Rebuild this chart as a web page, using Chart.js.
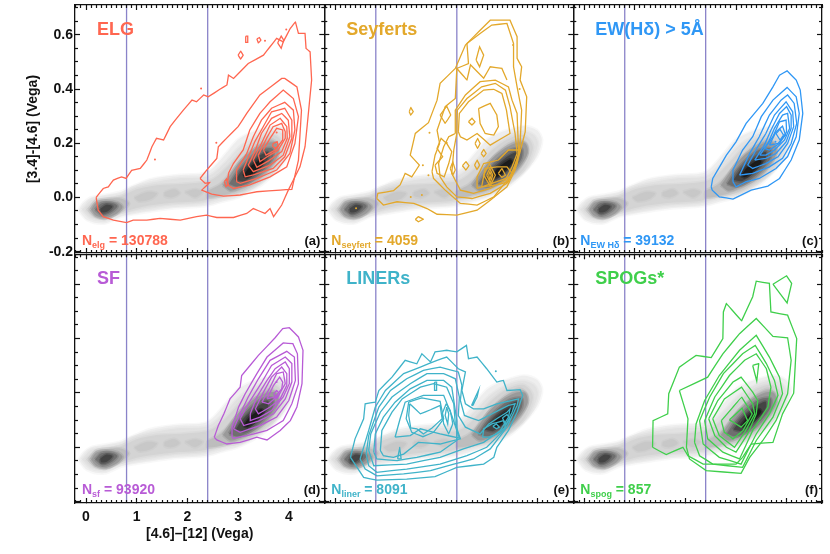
<!DOCTYPE html>
<html>
<head>
<meta charset="utf-8">
<script src="https://cdn.jsdelivr.net/npm/chart.js@4"></script>
<style>
  html, body { margin: 0; padding: 0; background: #fff; }
  body { width: 830px; height: 554px; overflow: hidden; position: relative; }
  canvas { position: absolute; left: 0; top: 0; }
</style>
</head>
<body>
<canvas id="panelA" width="830" height="554"></canvas>
<canvas id="panelB" width="830" height="554"></canvas>
<canvas id="panelC" width="830" height="554"></canvas>
<canvas id="panelD" width="830" height="554"></canvas>
<canvas id="panelE" width="830" height="554"></canvas>
<canvas id="panelF" width="830" height="554"></canvas>
<script>
// axis values
const xRange = [-0.217, 4.70];
const yRange = [-0.205, 0.71];
const xMajor = [0, 1, 2, 3, 4];
const yMajor = [-0.2, 0, 0.2, 0.4, 0.6];
const xMinor = [-0.2, -0.1, 0.1, 0.2, 0.3, 0.4, 0.5, 0.6, 0.7, 0.8, 0.9, 1.1, 1.2, 1.3, 1.4, 1.5, 1.6, 1.7, 1.8, 1.9, 2.1, 2.2, 2.3, 2.4, 2.5, 2.6, 2.7, 2.8, 2.9, 3.1, 3.2, 3.3, 3.4, 3.5, 3.6, 3.7, 3.8, 3.9, 4.1, 4.2, 4.3, 4.4, 4.5, 4.6, 4.7];
const yMinor = [-0.15, -0.1, -0.05, 0.05, 0.1, 0.15, 0.25, 0.3, 0.35, 0.45, 0.5, 0.55, 0.65, 0.7];
const vLines = [0.8, 2.4];

// grey background density, lightest level first: [colour, outline, outline...]
const greyLevels = [
  ['#eeeeee', [-0.15,-0.047, -0.05,-0.02, 0.1,0.0, 0.36,0.009, 0.69,0.021, 0.82,0.033, 1.22,0.064, 1.5,0.075, 1.81,0.082, 2.34,0.089, 2.53,0.113, 2.75,0.16, 2.99,0.212, 3.2,0.235, 3.39,0.248, 3.72,0.263, 3.98,0.248, 4.08,0.212, 3.98,0.15, 3.72,0.09, 3.46,0.046, 3.02,0.002, 2.67,-0.016, 2.34,-0.032, 1.68,-0.041, 1.02,-0.059, 0.69,-0.071, 0.36,-0.096, 0.03,-0.084]],
  ['#e2e2e2', [-0.08,-0.045, 0.1,-0.01, 0.36,0.0, 0.7,0.012, 0.9,0.035, 1.3,0.055, 1.8,0.07, 2.35,0.075, 2.55,0.095, 2.8,0.14, 3.05,0.19, 3.4,0.23, 3.7,0.245, 3.92,0.23, 4.0,0.2, 3.9,0.14, 3.7,0.09, 3.4,0.05, 3.0,0.01, 2.65,-0.005, 2.3,-0.022, 1.7,-0.03, 1.0,-0.05, 0.7,-0.062, 0.36,-0.085, 0.08,-0.075]],
  ['#d4d4d4', [0.0,-0.045, 0.15,-0.02, 0.38,-0.008, 0.7,0.005, 1.0,0.03, 1.4,0.045, 1.9,0.05, 2.4,0.06, 2.6,0.08, 2.85,0.125, 3.1,0.175, 3.4,0.215, 3.7,0.23, 3.85,0.21, 3.9,0.18, 3.75,0.11, 3.5,0.065, 3.1,0.02, 2.65,0.005, 2.3,-0.012, 1.7,-0.02, 1.1,-0.035, 0.7,-0.055, 0.4,-0.075, 0.15,-0.07]],
  ['#c8c8c8', [0.95,0.0, 1.2,0.02, 1.4,0.015, 1.3,-0.005, 1.05,-0.015], [1.55,0.02, 1.75,0.03, 1.85,0.015, 1.7,0.0, 1.55,0.005], [1.95,0.02, 2.15,0.03, 2.3,0.02, 2.15,0.0]],
  ['#bdbdbd', [0.05,-0.045, 0.2,-0.012, 0.45,-0.005, 0.7,-0.005, 0.85,-0.022, 0.7,-0.05, 0.4,-0.078, 0.18,-0.07], [2.4,0.025, 2.65,0.05, 2.9,0.1, 3.15,0.155, 3.4,0.195, 3.65,0.215, 3.8,0.19, 3.75,0.14, 3.5,0.08, 3.15,0.035, 2.8,0.012, 2.4,0.0]],
  ['#9a9a9a', [0.1,-0.045, 0.2,-0.02, 0.4,-0.012, 0.62,-0.018, 0.72,-0.035, 0.6,-0.06, 0.4,-0.075, 0.2,-0.068], [2.7,0.045, 2.85,0.085, 3.05,0.135, 3.3,0.175, 3.55,0.2, 3.75,0.2, 3.8,0.165, 3.65,0.115, 3.4,0.07, 3.1,0.04, 2.85,0.025]],
  ['#6f6f6f', [0.18,-0.045, 0.3,-0.022, 0.5,-0.02, 0.62,-0.032, 0.5,-0.055, 0.33,-0.066], [2.82,0.05, 2.98,0.095, 3.2,0.14, 3.45,0.175, 3.68,0.18, 3.68,0.145, 3.5,0.1, 3.25,0.06, 3.0,0.04]],
  ['#444444', [0.28,-0.042, 0.4,-0.027, 0.52,-0.033, 0.42,-0.052, 0.3,-0.055], [2.95,0.065, 3.1,0.105, 3.35,0.145, 3.58,0.168, 3.58,0.14, 3.35,0.09, 3.12,0.06]],
  ['#1c1c1c', [3.1,0.08, 3.22,0.11, 3.45,0.14, 3.5,0.13, 3.3,0.09, 3.18,0.075]]
];

// contours of each class, as flat x,y lists
const elgContours = [
  [0.20,0, 0.34,0.033, 0.44,0.039, 0.54,0.064, 0.70,0.076, 0.79,0.07, 0.90,0.10, 1.07,0.107, 1.20,0.138, 1.30,0.187, 1.39,0.218, 1.53,0.212, 1.66,0.261, 1.76,0.285, 1.92,0.322, 2.09,0.359, 2.18,0.353, 2.32,0.378, 2.41,0.371, 2.64,0.399, 2.78,0.415, 2.81,0.451, 2.91,0.439, 3.20,0.494, 3.50,0.525, 3.63,0.556, 3.76,0.587, 3.89,0.574, 4.03,0.624, 4.13,0.648, 4.19,0.605, 4.32,0.605, 4.34,0.55, 4.42,0.537, 4.45,0.433, 4.36,0.261, 4.32,0.187, 4.22,0.113, 3.99,0.027, 3.86,-0.028, 3.70,-0.071, 3.63,-0.041, 3.53,-0.059, 3.30,-0.041, 3.17,-0.059, 2.91,-0.074, 2.58,-0.074, 2.38,-0.065, 2.18,-0.071, 1.86,-0.084, 1.46,-0.077, 1.20,-0.084, 0.93,-0.084, 0.80,-0.093, 0.54,-0.084, 0.34,-0.071, 0.24,-0.047],
  [2.25,0.07, 2.35,0.052, 2.44,0.055, 2.28,0.027, 2.48,0.012, 2.71,0.005, 3.04,0.009, 3.37,0.021, 3.83,0.027, 4.06,0.03, 4.19,0.138, 4.25,0.322, 4.16,0.408, 3.92,0.439, 3.86,0.439, 3.43,0.378, 3.17,0.31, 3.00,0.261, 2.77,0.218, 2.61,0.187, 2.58,0.144, 2.38,0.101],
  [2.81,0.089, 2.91,0.126, 3.10,0.175, 3.23,0.249, 3.43,0.31, 3.63,0.353, 3.89,0.396, 4.09,0.365, 4.19,0.298, 4.12,0.199, 3.96,0.113, 3.63,0.076, 3.23,0.046, 2.91,0.033, 2.79,0.046],
  [2.97,0.058, 2.97,0.101, 3.17,0.162, 3.30,0.224, 3.46,0.285, 3.66,0.329, 3.92,0.351, 4.09,0.322, 4.12,0.249, 4.02,0.162, 3.76,0.101, 3.37,0.07, 3.04,0.052],
  [3.10,0.101, 3.33,0.206, 3.66,0.316, 3.92,0.329, 4.06,0.285, 4.06,0.218, 3.92,0.15, 3.69,0.107, 3.30,0.083, 3.14,0.076],
  [3.20,0.119, 3.33,0.169, 3.46,0.236, 3.66,0.292, 3.86,0.31, 3.99,0.285, 4.02,0.224, 3.89,0.156, 3.63,0.119, 3.30,0.095],
  [3.30,0.138, 3.46,0.199, 3.63,0.267, 3.83,0.292, 3.96,0.261, 3.97,0.218, 3.86,0.169, 3.60,0.135, 3.37,0.111],
  [3.40,0.156, 3.56,0.218, 3.69,0.261, 3.86,0.273, 3.93,0.242, 3.93,0.218, 3.79,0.175, 3.56,0.148, 3.43,0.132],
  [3.50,0.175, 3.63,0.218, 3.76,0.255, 3.88,0.249, 3.88,0.212, 3.73,0.175, 3.55,0.156],
  [3.69,0.199, 3.77,0.206, 3.79,0.19, 3.73,0.181, 3.68,0.19],
  [2.73,0.058, 2.77,0.068, 2.81,0.046, 2.76,0.04],
  [3.15,0.595, 3.19,0.595, 3.19,0.572, 3.15,0.572],
  [3.00,0.525, 3.05,0.54, 3.1,0.525, 3.05,0.51],
  [3.37,0.585, 3.42,0.59, 3.45,0.58, 3.4,0.57],
  [3.78,0.57, 3.85,0.595, 3.9,0.58, 3.85,0.55]
];
const elgDots = [3.76,0.24, 3.95,0.62, 2.27,0.402, 2.57,0.202, 3.53,0.578, 1.36,0.14];

const seyfertContours = [
  [0.82,-0.004, 0.84,0.015, 1.15,0.025, 1.28,0.046, 1.38,0.089, 1.51,0.076, 1.66,0.119, 1.48,0.156, 1.58,0.236, 1.84,0.276, 2.01,0.359, 2.07,0.421, 2.37,0.476, 2.57,0.562, 2.86,0.617, 3.06,0.654, 3.45,0.654, 3.59,0.593, 3.59,0.513, 3.68,0.482, 3.65,0.433, 3.78,0.371, 3.75,0.242, 3.65,0.169, 3.55,0.101, 3.39,0.039, 3.06,-0.01, 2.8,-0.047, 2.4,-0.065, 2.01,-0.062, 1.81,-0.041, 1.55,-0.022, 1.22,-0.016, 0.95,-0.028],
  [1.91,0.095, 1.97,0.156, 2.06,0.199, 2.01,0.248, 2.17,0.335, 2.37,0.365, 2.4,0.476, 2.63,0.494, 2.6,0.568, 2.86,0.605, 3.09,0.636, 3.39,0.642, 3.52,0.568, 3.52,0.482, 3.59,0.408, 3.68,0.322, 3.65,0.199, 3.59,0.125, 3.45,0.076, 3.13,0.002, 2.8,-0.028, 2.47,-0.022, 2.17,0.027, 1.94,0.07],
  [2.37,0.236, 2.37,0.322, 2.57,0.378, 2.86,0.427, 3.16,0.433, 3.42,0.408, 3.49,0.359, 3.59,0.31, 3.62,0.162, 3.52,0.101, 3.39,0.052, 3.06,0.015, 2.7,-0.004, 2.4,0.002, 2.2,0.039, 2.07,0.076, 2.04,0.125, 2.14,0.187, 2.24,0.224],
  [2.4,0.236, 2.41,0.322, 2.6,0.365, 2.89,0.408, 3.16,0.421, 3.36,0.396, 3.45,0.335, 3.55,0.236, 3.59,0.162, 3.49,0.113, 3.36,0.064, 3.06,0.033, 2.73,0.015, 2.47,0.027, 2.3,0.089, 2.34,0.175],
  [2.43,0.242, 2.45,0.31, 2.63,0.353, 2.93,0.396, 3.13,0.399, 3.29,0.384, 3.38,0.322, 3.45,0.236, 3.06,0.193, 2.8,0.236, 2.6,0.212, 2.47,0.224],
  [2.83,0.328, 3.06,0.347, 3.19,0.304, 3.22,0.261, 3.13,0.23, 2.96,0.236, 2.86,0.273],
  [2.93,0.082, 3.04,0.125, 3.16,0.082, 3.06,0.042],
  [2.99,0.082, 3.05,0.107, 3.11,0.082, 3.06,0.054],
  [3.03,0.082, 3.05,0.095, 3.08,0.082, 3.05,0.064],
  [2.8,0.033, 3.19,0.058, 3.45,0.076, 3.59,0.138, 3.65,0.175, 3.42,0.175, 3.22,0.138, 2.93,0.125, 2.8,0.076],
  [2.89,0.039, 3.19,0.046, 3.42,0.058, 3.49,0.089, 3.39,0.113, 3.19,0.113, 2.96,0.107],
  [3.22,0.089, 3.29,0.107, 3.36,0.082, 3.29,0.074],
  [2.63,0.279, 2.70,0.292, 2.76,0.279, 2.70,0.267],
  [2.76,0.199, 2.81,0.218, 2.86,0.199, 2.81,0.181],
  [2.88,0.162, 2.93,0.177, 2.98,0.162, 2.93,0.15],
  [2.51,0.117, 2.58,0.132, 2.64,0.117, 2.58,0.101],
  [2.75,0.119, 2.8,0.138, 2.85,0.119, 2.8,0.103],
  [2.27,0.107, 2.32,0.132, 2.37,0.101, 2.32,0.082],
  [1.46,0.316, 1.49,0.332, 1.54,0.316, 1.49,0.304],
  [1.58,-0.081, 1.64,-0.071, 1.74,-0.08, 1.64,-0.09],
  [2.78,0.507, 2.85,0.556, 2.93,0.525, 2.85,0.482],
  [2.07,0.304, 2.2,0.337, 2.28,0.304, 2.17,0.273],
  [1.97,0.119, 2.12,0.15, 2.01,0.181, 2.09,0.218, 2.2,0.199, 2.3,0.169, 2.24,0.125, 2.15,0.076, 2.01,0.089]
];
const seyfertOpen = [
  [2.4,0.476, 2.6,0.433, 2.67,0.489, 2.93,0.44, 3.06,0.482, 3.29,0.476, 3.39,0.433]
];
const seyfertDots = [3.51,0.562, 3.64,0.4, 0.41,-0.04, 1.86,0.239, 1.73,0.119, 1.84,0.082, 2.2,0.202, 1.49,0.002, 1.71,0.009];

const ewContours = [
  [2.51,0.039, 2.54,0.07, 2.81,0.156, 3.0,0.205, 3.2,0.273, 3.53,0.347, 3.73,0.408, 3.86,0.451, 4.01,0.467, 4.19,0.433, 4.27,0.396, 4.32,0.31, 4.25,0.212, 4.09,0.138, 3.86,0.07, 3.63,0.042, 3.3,0.027, 2.94,-0.006, 2.67,0.002, 2.53,0.027],
  [2.94,0.058, 2.94,0.101, 3.13,0.175, 3.33,0.224, 3.5,0.298, 3.73,0.359, 4.01,0.406, 4.19,0.371, 4.25,0.31, 4.19,0.224, 4.02,0.151, 3.79,0.107, 3.46,0.07, 3.2,0.058, 3.0,0.039],
  [3.07,0.082, 3.27,0.162, 3.46,0.224, 3.66,0.304, 3.89,0.359, 4.02,0.378, 4.15,0.347, 4.2,0.273, 4.09,0.199, 3.92,0.144, 3.66,0.113, 3.33,0.089],
  [3.23,0.119, 3.43,0.187, 3.59,0.236, 3.76,0.304, 3.99,0.353, 4.12,0.316, 4.14,0.261, 4.02,0.199, 3.83,0.15, 3.59,0.125, 3.33,0.107],
  [3.37,0.138, 3.56,0.193, 3.69,0.248, 3.86,0.31, 4.0,0.335, 4.09,0.304, 4.09,0.255, 3.99,0.205, 3.79,0.162, 3.59,0.144],
  [3.47,0.156, 3.63,0.199, 3.76,0.255, 3.92,0.304, 4.02,0.31, 4.06,0.255, 3.96,0.212, 3.76,0.175, 3.59,0.156],
  [3.56,0.181, 3.73,0.224, 3.86,0.279, 3.99,0.285, 4.0,0.242, 3.86,0.199, 3.66,0.175],
  [3.66,0.193, 3.79,0.242, 3.92,0.263, 3.98,0.23, 3.83,0.199],
  [3.79,0.236, 3.87,0.251, 3.94,0.23, 3.87,0.212]
];
const ewDots = [3.78,0.205];

const sfContours = [
  [2.53,0.037, 2.61,0.08, 2.72,0.123, 2.84,0.178, 3.04,0.221, 3.07,0.264, 3.40,0.338, 3.73,0.403, 3.88,0.437, 4.01,0.44, 4.19,0.406, 4.28,0.357, 4.26,0.234, 4.16,0.148, 4.03,0.098, 3.83,0.062, 3.57,0.027, 3.37,0.037, 3.04,0.018, 2.78,0.012, 2.58,0.027],
  [2.88,0.037, 2.88,0.074, 3.01,0.148, 3.14,0.197, 3.37,0.271, 3.57,0.332, 3.89,0.384, 4.08,0.381, 4.17,0.344, 4.19,0.234, 4.06,0.16, 3.89,0.098, 3.57,0.062, 3.17,0.043, 2.91,0.033],
  [2.91,0.068, 3.07,0.135, 3.20,0.185, 3.40,0.252, 3.63,0.32, 3.96,0.353, 4.11,0.332, 4.13,0.246, 4.0,0.172, 3.76,0.111, 3.43,0.08, 3.04,0.055],
  [3.04,0.105, 3.24,0.172, 3.47,0.24, 3.66,0.301, 3.93,0.332, 4.06,0.308, 4.06,0.24, 3.93,0.178, 3.70,0.123, 3.40,0.096, 3.11,0.08],
  [3.24,0.123, 3.37,0.185, 3.57,0.246, 3.73,0.289, 3.93,0.314, 4.01,0.289, 4.01,0.234, 3.89,0.185, 3.66,0.135, 3.43,0.111, 3.24,0.098],
  [3.34,0.141, 3.50,0.203, 3.66,0.258, 3.86,0.295, 3.96,0.271, 3.96,0.228, 3.83,0.178, 3.63,0.148, 3.40,0.123],
  [3.47,0.166, 3.63,0.221, 3.76,0.271, 3.89,0.277, 3.93,0.234, 3.80,0.191, 3.60,0.16],
  [3.57,0.178, 3.70,0.228, 3.82,0.258, 3.88,0.24, 3.86,0.215, 3.73,0.185],
  [3.70,0.197, 3.76,0.209, 3.82,0.197, 3.76,0.178]
];
const sfDots = [3.76,0.24, 3.05,0.12];

const linerContours = [
  [0.30,-0.037, 0.39,0.031, 0.56,0.105, 0.59,0.16, 0.79,0.166, 0.86,0.209, 1.12,0.258, 1.38,0.32, 1.61,0.307, 1.71,0.344, 1.88,0.314, 1.97,0.351, 2.2,0.357, 2.4,0.351, 2.59,0.375, 2.63,0.326, 2.8,0.332, 2.99,0.289, 3.19,0.24, 3.32,0.246, 3.39,0.209, 3.65,0.212, 3.7,0.191, 3.59,0.129, 3.42,0.062, 3.19,0, 3.13,-0.037, 2.93,-0.062, 2.4,-0.074, 1.97,-0.108, 1.41,-0.117, 0.82,-0.121, 0.56,-0.111],
  [0.49,-0.043, 0.66,0.062, 0.79,0.148, 0.99,0.209, 1.35,0.271, 1.68,0.295, 2.01,0.32, 2.2,0.332, 2.43,0.289, 2.57,0.277, 2.5,0.209, 2.57,0.16, 2.73,0.141, 2.93,0.141, 3.19,0.16, 3.62,0.178, 3.59,0.154, 3.39,0.074, 3.06,-0.006, 2.73,-0.043, 2.34,-0.062, 1.88,-0.086, 1.35,-0.098, 0.82,-0.105, 0.59,-0.08],
  [0.61,-0.025, 0.66,0.043, 0.86,0.148, 1.09,0.209, 1.41,0.252, 1.74,0.283, 2.07,0.295, 2.43,0.277, 2.5,0.228, 2.47,0.172, 2.55,0.117, 2.83,0.098, 3.03,0.117, 3.42,0.154, 3.55,0.16, 3.49,0.129, 3.32,0.062, 2.99,0, 2.6,-0.031, 2.07,-0.062, 1.41,-0.08, 0.82,-0.092, 0.66,-0.068],
  [0.66,-0.012, 0.70,0.049, 0.89,0.129, 1.12,0.185, 1.48,0.234, 1.81,0.271, 2.14,0.271, 2.37,0.252, 2.45,0.185, 2.43,0.117, 2.57,0.074, 2.86,0.049, 3.03,0.086, 3.39,0.129, 3.45,0.141, 3.42,0.111, 3.26,0.062, 2.93,0.018, 2.53,-0.006, 2.07,-0.037, 1.41,-0.062, 0.76,-0.068],
  [0.76,-0.018, 0.79,0.049, 0.95,0.111, 1.18,0.166, 1.48,0.215, 1.81,0.246, 2.14,0.246, 2.3,0.221, 2.4,0.098, 2.4,0.025, 2.07,-0.018, 1.61,-0.037, 1.22,-0.049, 0.82,-0.043],
  [0.89,-0.012, 0.92,0.062, 1.12,0.129, 1.32,0.178, 1.68,0.221, 1.94,0.234, 2.2,0.221, 2.34,0.16, 2.37,0.086, 2.47,0.031, 2.07,0.012, 1.64,0.018, 1.35,-0.025, 1.15,-0.037, 0.95,-0.031],
  [1.18,0.037, 1.28,0.105, 1.38,0.166, 1.74,0.191, 2.14,0.191, 2.3,0.117, 2.45,0.034, 2.07,0.049, 1.68,0.068, 1.48,0.043],
  [1.45,0.166, 1.71,0.182, 2.07,0.169, 2.14,0.105, 1.94,0.055, 1.73,0.039, 1.51,0.055, 1.4,0.105],
  [1.47,0.16, 1.68,0.123, 1.88,0.138, 2.07,0.154, 2.11,0.105, 1.91,0.071, 1.74,0.049, 1.61,0.068, 1.49,0.071, 1.45,0.117],
  [2.19,0.16, 2.27,0.135, 2.32,0.086, 2.24,0.049, 2.14,0.086, 2.11,0.123],
  [2.2,0.148, 2.24,0.123, 2.22,0.086, 2.17,0.117],
  [1.96,0.24, 2.0,0.24, 2.0,0.209, 1.96,0.209],
  [2.91,0.037, 2.93,0.068, 3.09,0.086, 3.32,0.098, 3.36,0.074, 3.19,0.049, 3.03,0.037],
  [3.11,0.077, 3.18,0.086, 3.24,0.074, 3.18,0.068],
  [3.3,0.108, 3.39,0.121, 3.45,0.105, 3.37,0.084],
  [1.23,-0.043, 1.27,0, 1.3,-0.043],
  [2.69,0.154, 2.83,0.21, 2.8,0.185, 2.72,0.155]
];
const linerDots = [3.17,0.28];

const spogContours = [
  [1.35,0, 1.36,0.098, 1.65,0.123, 1.67,0.197, 1.88,0.295, 2.21,0.338, 2.51,0.33, 2.74,0.4, 2.75,0.498, 2.81,0.529, 3.11,0.465, 3.33,0.554, 3.40,0.611, 3.66,0.603, 3.69,0.498, 4.02,0.486, 4.2,0.4, 4.14,0.199, 3.92,0.123, 3.73,0.018, 3.30,0.012, 3.13,-0.037, 3.0,-0.062, 2.35,-0.062, 2.05,-0.031, 1.95,0, 1.62,-0.027],
  [3.73,0.6, 4.0,0.631, 4.1,0.603, 4.01,0.531],
  [1.88,0.209, 2.44,0.258, 2.74,0.344, 3.07,0.418, 3.40,0.474, 3.73,0.408, 4.02,0.403, 4.09,0.32, 4.02,0.197, 3.79,0.098, 3.53,0.025, 3.27,-0.037, 3.10,-0.096, 2.41,-0.086, 2.08,-0.043, 2.02,0, 2.05,0.105],
  [2.18,0.018, 2.21,0.086, 2.38,0.172, 2.67,0.264, 3.07,0.357, 3.40,0.412, 3.66,0.332, 3.86,0.258, 3.92,0.197, 3.73,0.111, 3.40,0.025, 3.13,-0.074, 2.54,-0.062, 2.28,-0.031],
  [2.28,0.098, 2.48,0.185, 2.75,0.271, 3.13,0.344, 3.38,0.375, 3.6,0.308, 3.76,0.246, 3.83,0.191, 3.66,0.123, 3.40,0.049, 3.1,-0.062, 2.67,-0.037, 2.35,0.012],
  [2.38,0.098, 2.58,0.185, 2.87,0.264, 3.17,0.32, 3.40,0.344, 3.6,0.289, 3.69,0.221, 3.63,0.148, 3.33,0.062, 3.07,-0.043, 2.74,-0.018, 2.44,0.031],
  [2.46,0.105, 2.64,0.172, 2.94,0.24, 3.10,0.258, 3.33,0.203, 3.43,0.172, 3.40,0.123, 3.23,0.049, 3.0,-0.018, 2.81,0, 2.58,0.043],
  [2.54,0.105, 2.77,0.178, 3.11,0.221, 3.33,0.16, 3.37,0.123, 3.17,0.055, 2.97,0, 2.67,0.043],
  [2.71,0.098, 2.94,0.148, 3.11,0.185, 3.32,0.123, 3.14,0.062, 2.94,0.031, 2.77,0.055],
  [2.87,0.101, 3.12,0.144, 3.23,0.098, 3.10,0.074],
  [3.33,0.301, 3.45,0.308, 3.41,0.244]
];

// panel boxes on the page: left, right, top, bottom
const columnEdges = [[75, 324.3], [324.3, 573.3], [573.3, 822]];
const rowEdges = [[5, 253], [254.3, 503]];

function toPoints(flat, close) {
  const pts = [];
  for (let i = 0; i < flat.length; i += 2) pts.push({ x: flat[i], y: flat[i + 1] });
  if (close) pts.push({ x: flat[0], y: flat[1] });
  return pts;
}

function greyDatasets() {
  const sets = [];
  // reversed: first dataset is painted last, so the darkest goes first
  greyLevels.slice().reverse().forEach(level => {
    level.slice(1).forEach(shape => {
      sets.push({
        data: toPoints(shape, true), showLine: true, fill: 'shape', tension: 0.3,
        backgroundColor: level[0], borderColor: level[0] + '70', borderWidth: 3, pointRadius: 0
      });
    });
  });
  return sets;
}

function makeAxis(position, ticks, tickLen, primary, labels, title) {
  const horizontal = position === 'bottom' || position === 'top';
  const range = horizontal ? xRange : yRange;
  const size = title ? (horizontal ? 40 : 50) : 0;
  return {
    type: 'linear', position: position, min: range[0], max: range[1],
    weight: title ? 1 : 0,
    afterBuildTicks: axis => { axis.ticks = ticks.map(v => ({ value: v })); },
    afterFit: axis => {
      if (horizontal) axis.height = size; else axis.width = size;
      axis.paddingLeft = axis.paddingRight = axis.paddingTop = axis.paddingBottom = 0;
    },
    // ticks point inwards, so both layers go above the datasets
    border: { z: 1, display: primary, color: '#111', width: 1.3 },
    grid: { z: 1, drawOnChartArea: false, drawTicks: true, tickLength: -tickLen, tickColor: '#111', tickWidth: 1.2 },
    ticks: {
      display: labels, autoSkip: false, maxRotation: 0, color: '#111',
      padding: horizontal ? tickLen + 6 : tickLen + 2,
      font: { family: 'Liberation Sans', weight: 'bold', size: 14 },
      callback: v => horizontal ? String(v) : v.toFixed(1)
    },
    title: title ? {
      display: true, text: title, color: '#111', padding: { top: horizontal ? 3 : 0, bottom: 0 },
      font: { family: 'Liberation Sans', weight: 'bold', size: 14 }
    } : { display: false }
  };
}

const panelTextPlugin = {
  id: 'panelText',
  afterDraw(chart, args, opts) {
    const { ctx, chartArea } = chart;
    ctx.save();
    ctx.textBaseline = 'alphabetic';
    ctx.fillStyle = opts.color;
    ctx.textAlign = 'left';
    ctx.font = 'bold 18px "Liberation Sans"';
    ctx.fillText(opts.name, chartArea.left + 22, chartArea.top + 30);
    // count label with its subscript
    let x = chartArea.left + 7;
    const y = chartArea.top + 239.5;
    ctx.font = 'bold 14px "Liberation Sans"';
    ctx.fillText('N', x, y);
    x += ctx.measureText('N').width;
    ctx.font = 'bold 9px "Liberation Sans"';
    ctx.fillText(opts.sub, x, y + 3);
    x += ctx.measureText(opts.sub).width;
    ctx.font = 'bold 14px "Liberation Sans"';
    ctx.fillText(' = ' + opts.count, x, y);
    ctx.fillStyle = '#111';
    ctx.textAlign = 'right';
    ctx.font = 'bold 13px "Liberation Sans"';
    ctx.fillText(opts.letter, chartArea.right - 4, y);
    ctx.restore();
  }
};

function drawPanel(canvasId, col, row, color, contours, openLines, dots, text) {
  // tiny tension keeps the line element off its fast path, which merges near-vertical points
  const contourSets = contours.map(c => ({ data: toPoints(c, true) }))
    .concat(openLines.map(c => ({ data: toPoints(c, false) })))
    .map(s => Object.assign(s, { showLine: true, tension: 0.001, borderColor: color, borderWidth: 1.3, pointRadius: 0, fill: false }));
  const dotSet = { data: toPoints(dots, false), showLine: false, pointRadius: 1, pointBackgroundColor: color, pointBorderWidth: 0 };
  const lineSets = vLines.map(v => ({
    data: [{ x: v, y: yRange[0] }, { x: v, y: yRange[1] }],
    showLine: true, borderColor: '#8a83c9', borderWidth: 1.3, pointRadius: 0, fill: false
  }));

  const yTitle = col === 0 && row === 0 ? '[3.4]-[4.6] (Vega)' : null;
  const xTitle = col === 0 && row === 1 ? '[4.6]\u2013[12] (Vega)' : null;
  const leftPad = columnEdges[col][0] - (yTitle ? 50 : 0);
  const bottomPad = 554 - rowEdges[row][1] - (xTitle ? 40 : 0);

  new Chart(document.getElementById(canvasId), {
    type: 'scatter',
    data: { datasets: contourSets.concat([dotSet], lineSets, greyDatasets()) },
    options: {
      responsive: false,
      animation: false,
      devicePixelRatio: 1,
      layout: { padding: { left: leftPad, right: 830 - columnEdges[col][1], top: rowEdges[row][0], bottom: bottomPad } },
      plugins: { legend: { display: false }, tooltip: { enabled: false }, panelText: text },
      scales: {
        x: makeAxis('bottom', xMajor, 5, true, xTitle !== null, xTitle),
        xMinorBottom: makeAxis('bottom', xMinor, 3, false, false, null),
        xTop: makeAxis('top', xMajor, 5, true, false, null),
        xMinorTop: makeAxis('top', xMinor, 3, false, false, null),
        y: makeAxis('left', yMajor, 5, true, yTitle !== null, yTitle),
        yMinorLeft: makeAxis('left', yMinor, 3, false, false, null),
        yRight: makeAxis('right', yMajor, 5, true, false, null),
        yMinorRight: makeAxis('right', yMinor, 3, false, false, null)
      }
    },
    plugins: [panelTextPlugin]
  });
}

drawPanel('panelA', 0, 0, '#ff6650', elgContours, [], elgDots, { color: '#ff6650', name: 'ELG', sub: 'elg', count: '130788', letter: '(a)' });
drawPanel('panelB', 1, 0, '#e3a82b', seyfertContours, seyfertOpen, seyfertDots, { color: '#e3a82b', name: 'Seyferts', sub: 'seyfert', count: '4059', letter: '(b)' });
drawPanel('panelC', 2, 0, '#2f97f5', ewContours, [], ewDots, { color: '#2f97f5', name: 'EW(H\u03b4) > 5\u00c5', sub: 'EW H\u03b4', count: '39132', letter: '(c)' });
drawPanel('panelD', 0, 1, '#b85bd6', sfContours, [], sfDots, { color: '#b85bd6', name: 'SF', sub: 'sf', count: '93920', letter: '(d)' });
drawPanel('panelE', 1, 1, '#3fb3c9', linerContours, [], linerDots, { color: '#3fb3c9', name: 'LINERs', sub: 'liner', count: '8091', letter: '(e)' });
drawPanel('panelF', 2, 1, '#3fcf4b', spogContours, [], [], { color: '#3fcf4b', name: 'SPOGs*', sub: 'spog', count: '857', letter: '(f)' });
</script>
</body>
</html>
